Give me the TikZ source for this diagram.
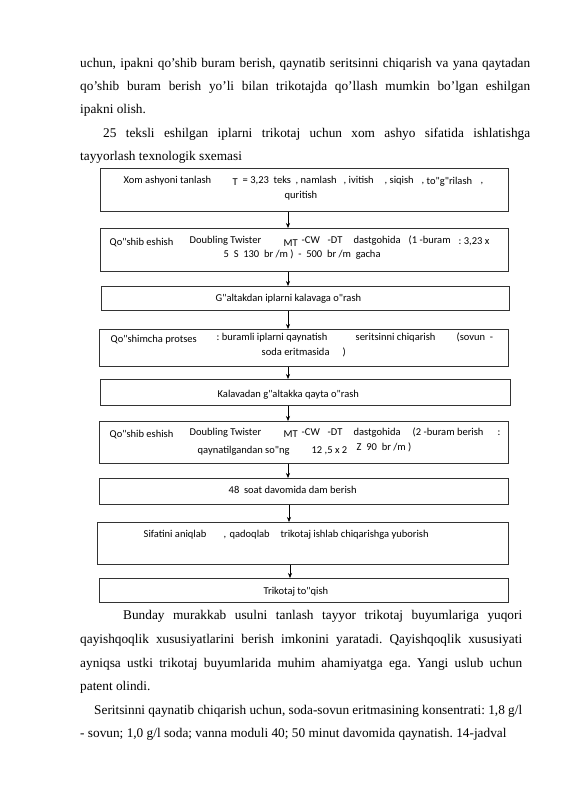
\documentclass[tikz,border=0pt]{standalone}
\usepackage{fontspec}
\setmainfont{Liberation Serif}
\newfontfamily\boxfont{Carlito}
\usetikzlibrary{arrows.meta}
\frenchspacing
\newcommand\tx[3][0]{\makebox[0pt][l]{\hspace*{#2pt}\raisebox{-#1pt}{#3}}}
\tikzset{
  bx/.style={draw=black!80, line width=0.6pt, inner sep=0pt, anchor=north west, rectangle},
  arr/.style={draw=black, line width=0.6pt, -{Stealth[length=5pt,width=4pt]}},
  bl/.style={anchor=base west, inner sep=0pt, font=\boxfont\fontsize{10.5}{12}\selectfont},
  body/.style={anchor=base west, inner sep=0pt, font=\fontsize{13.3}{16}\selectfont}
}
\begin{document}
\begin{tikzpicture}[x=1pt,y=-1pt]
\useasboundingbox (0,0) rectangle (565,800);
\fill[white] (0,0) rectangle (565,800);
% body text top
\node[body] (p1) at (80,67) {\makebox[450pt][s]{uchun, ipakni qo’shib buram berish, qaynatib seritsinni chiqarish va yana qaytadan}};
\node[body] (p2) at (80,90) {\makebox[450pt][s]{qo’shib buram berish yo’li bilan trikotajda qo’llash mumkin bo’lgan eshilgan}};
\node[body] (p3) at (80,113) {ipakni olish.};
\node[body] (p4) at (103,137) {\makebox[427pt][s]{25 teksli eshilgan iplarni trikotaj uchun xom ashyo sifatida ishlatishga}};
\node[body] (p5) at (80,160) {tayyorlash texnologik sxemasi};
% boxes
\node[bx, minimum width=408pt, minimum height=43pt] (b1) at (100,168) {};
\node[bx, minimum width=408pt, minimum height=43pt] (b2) at (100,228) {};
\node[bx, minimum width=408pt, minimum height=24pt] (b3) at (101,286) {};
\node[bx, minimum width=409pt, minimum height=37pt] (b4) at (99,329) {};
\node[bx, minimum width=410pt, minimum height=26pt] (b5) at (100,379) {};
\node[bx, minimum width=409pt, minimum height=42pt] (b6) at (99,421) {};
\node[bx, minimum width=409pt, minimum height=26pt] (b7) at (99,478) {};
\node[bx, minimum width=411pt, minimum height=42pt] (b8) at (97,522) {};
\node[bx, minimum width=409pt, minimum height=24pt] (b9) at (99,578) {};
% box texts
\node[bl] (t1a) at (0,183) {\tx{123}{Xom ashyoni tanlash}\tx[2.5]{232}{T}\tx{242}{= 3,23\ \ teks}\tx{295}{, namlash}\tx{343}{, ivitish}\tx{384}{, siqish}\tx{421}{,}\tx[1.5]{426}{to"g"rilash}\tx{480}{,}};
\node[bl] (t1b) at (0,198) {\tx{284}{quritish}};
\node[bl] (t2a) at (0,243) {\tx[2]{109}{Qo"shib eshish}\tx{189}{Doubling Twister}\tx[3]{283}{MT}\tx{301}{-CW}\tx{327}{-DT}\tx{353}{dastgohida}\tx{408}{(1 -buram}\tx[1]{458}{: 3,23 x}};
\node[bl] (t2b) at (0,257) {\tx{223}{5\ \ S\ \ 130\ \ br /m )\ \ -\ \ 500\ \ br /m\ \ gacha}};
\node[bl] (t3) at (0,301) {\tx{215}{G"altakdan iplarni kalavaga o"rash}};
\node[bl] (t4a) at (0,340) {\tx[2]{110}{Qo"shimcha protses}\tx{216}{: buramli iplarni qaynatish}\tx{355}{seritsinni chiqarish}\tx{456}{(sovun\ \ -}};
\node[bl] (t4b) at (0,355) {\tx{261}{soda eritmasida}\tx{342}{)}};
\node[bl] (t5) at (0,397) {\tx{217}{Kalavadan g"altakka qayta o"rash}};
\node[bl] (t6a) at (0,435) {\tx[2]{109}{Qo"shib eshish}\tx{189}{Doubling Twister}\tx[2.5]{283}{MT}\tx{301}{-CW}\tx{327}{-DT}\tx{353}{dastgohida}\tx{412}{(2 -buram berish}\tx{497}{:}};
\node[bl] (t6b) at (0,452) {\tx[1]{197}{qaynatilgandan so"ng}\tx[1]{311}{12 ,5 x 2}\tx[-2]{356}{Z\ \ 90\ \ br /m )}};
\node[bl] (t7) at (0,493) {\tx{228}{48\ \ soat davomida dam berish}};
\node[bl] (t8) at (0,537) {\tx{143}{Sifatini aniqlab}\tx{223}{,}\tx{229}{qadoqlab}\tx{280}{trikotaj ishlab chiqarishga yuborish}};
\node[bl] (t9) at (0,594) {\tx{263}{Trikotaj to"qish}};
% arrows
\coordinate (ax1) at (288,0);
\coordinate (ax2) at (289,0);
\coordinate (ax3) at (290,0);
\draw[arr] (b1.south -| ax1) -- (b2.north -| ax1);
\draw[arr] (b2.south -| ax1) -- (b3.north -| ax1);
\draw[arr] (b3.south -| ax1) -- (b4.north -| ax1);
\draw[arr] (b4.south -| ax1) -- (b5.north -| ax1);
\draw[arr] (b5.south -| ax1) -- (b6.north -| ax1);
\draw[arr] (b6.south -| ax1) -- (b7.north -| ax1);
\draw[arr] (b7.south -| ax2) -- (b8.north -| ax2);
\draw[arr] (b8.south -| ax3) -- (b9.north -| ax3);
% body text bottom
\node[body] (q1) at (123,619) {\makebox[399pt][s]{Bunday murakkab usulni tanlash tayyor trikotaj buyumlariga yuqori}};
\node[body] (q2) at (80,643) {\makebox[442pt][s]{qayishqoqlik xususiyatlarini berish imkonini yaratadi. Qayishqoqlik xususiyati}};
\node[body] (q3) at (80,667) {\makebox[442pt][s]{ayniqsa ustki trikotaj buyumlarida muhim ahamiyatga ega. Yangi uslub uchun}};
\node[body] (q4) at (80,690) {patent olindi.};
\node[body] (q5) at (94,714) {\makebox[428pt][s]{Seritsinni qaynatib chiqarish uchun, soda-sovun eritmasining konsentrati: 1,8 g/l}};
\node[body] (q6) at (80,737) {- sovun; 1,0 g/l soda; vanna moduli 40; 50 minut davomida qaynatish. 14-jadval};
\end{tikzpicture}
\end{document}
